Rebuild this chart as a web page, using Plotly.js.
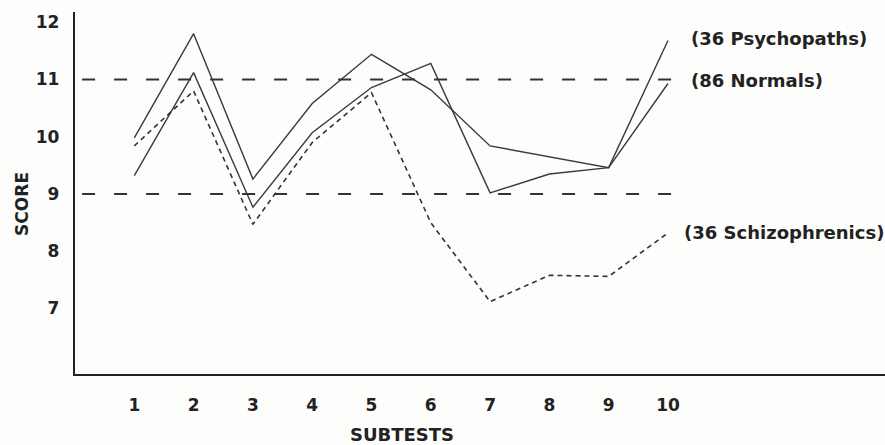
<!DOCTYPE html>
<html>
<head>
<meta charset="utf-8">
<script src="https://cdn.plot.ly/plotly-3.0.1.min.js"></script>
<style>html,body{margin:0;padding:0;background:#fdfdfb;}#chart{width:885px;height:445px;}</style>
</head>
<body>
<div id="chart"></div>
<script>
const subtests = [1, 2, 3, 4, 5, 6, 7, 8, 9, 10];
const xTickLabels = ["1", "2", "3", "4", "5", "6", "7", "8", "9", "10"];
const yTickVals = [7, 8, 9, 10, 11, 12];
const yTickLabels = ["7", "8", "9", "10", "11", "12"];

const psychopaths   = [9.98, 11.80, 9.26, 10.58, 11.44, 10.82, 9.84, 9.65, 9.46, 11.68];
const normals       = [9.32, 11.12, 8.77, 10.07, 10.86, 11.28, 9.02, 9.35, 9.46, 10.93];
const schizophrenics = [9.84, 10.80, 8.47, 9.90, 10.77, 8.50, 7.12, 7.58, 7.56, 8.32];

const seriesNames = ["(36 Psychopaths)", "(86 Normals)", "(36 Schizophrenics)"];
const labelOffsets = [0.04, 0.06, 0.0];
const labelX = [10.36, 10.36, 10.23];
const refLines = [9, 11];

const fontFam = "DejaVu Sans, Arial, sans-serif";
const ink = "#222";

const traces = [
  {x: subtests, y: psychopaths, mode: "lines", name: seriesNames[0],
   line: {color: "#3a3a3a", width: 1.4}},
  {x: subtests, y: normals, mode: "lines", name: seriesNames[1],
   line: {color: "#3a3a3a", width: 1.4}},
  {x: subtests, y: schizophrenics, mode: "lines", name: seriesNames[2],
   line: {color: "#333", width: 1.6, dash: "5px,4px"}}
];

const ends = [psychopaths, normals, schizophrenics].map(a => a[a.length - 1]);

const annotations = seriesNames.map((t, i) => ({
  text: t, x: labelX[i], y: ends[i] + labelOffsets[i], xref: "x", yref: "y",
  xanchor: "left", yanchor: "middle", showarrow: false,
  font: {family: fontFam, size: 18, color: ink, weight: "bold"}
}));
annotations.push({
  text: "SCORE", textangle: -90, x: -0.0654, y: 0.47, xref: "paper", yref: "paper",
  xanchor: "center", yanchor: "middle", showarrow: false,
  font: {family: fontFam, size: 17, color: ink, weight: "bold"}
});
annotations.push({
  text: "SUBTESTS", x: 0.4037, y: -0.1685, xref: "paper", yref: "paper",
  xanchor: "center", yanchor: "middle", showarrow: false,
  font: {family: fontFam, size: 18, color: ink, weight: "bold"}
});

const shapes = refLines.map(v => ({
  type: "line", xref: "x", yref: "y", x0: 0.12, x1: 10.07, y0: v, y1: v,
  line: {color: "#333", width: 1.8, dash: "13px,19px"}
}));

const layout = {
  width: 885, height: 445,
  margin: {l: 75, r: 0, t: 12, b: 71},
  paper_bgcolor: "#fdfdfb", plot_bgcolor: "#fdfdfb",
  showlegend: false,
  xaxis: {
    range: [0, 13.66], tickvals: subtests, ticktext: xTickLabels,
    showgrid: false, zeroline: false, showline: true, linecolor: "#222", linewidth: 2.2,
    ticks: "", ticklabelstandoff: 14,
    tickfont: {family: fontFam, size: 17, color: ink, weight: "bold"}
  },
  yaxis: {
    range: [5.856, 12.179], tickvals: yTickVals, ticktext: yTickLabels,
    showgrid: false, zeroline: false, showline: true, linecolor: "#222", linewidth: 2.2,
    ticks: "", ticklabelstandoff: 10,
    tickfont: {family: fontFam, size: 17, color: ink, weight: "bold"}
  },
  shapes: shapes,
  annotations: annotations
};

Plotly.newPlot("chart", traces, layout, {displayModeBar: false, staticPlot: true});
</script>
</body>
</html>
